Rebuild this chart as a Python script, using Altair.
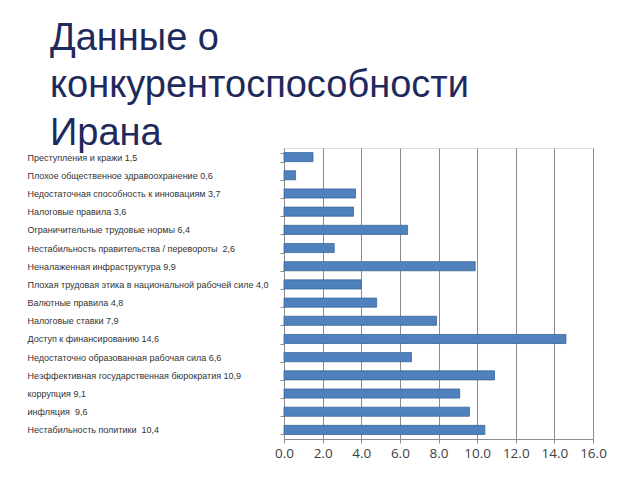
import altair as alt
import pandas as pd

NB = "\u00a0"
labels = [
    "Преступления и кражи 1,5",
    "Плохое общественное здравоохранение 0,6",
    NB + "Недостаточная способность к инновациям 3,7",
    "Налоговые правила 3,6",
    "Ограничительные трудовые нормы 6,4",
    "Нестабильность правительства / перевороты" + NB + " 2,6",
    NB + "Неналаженная инфраструктура 9,9",
    NB + "Плохая трудовая этика в национальной рабочей силе 4,0",
    "Валютные правила 4,8",
    "Налоговые ставки 7,9",
    NB + "Доступ к финансированию 14,6",
    "Недостаточно образованная рабочая сила 6,6",
    "Неэффективная государственная бюрократия 10,9",
    NB + "коррупция 9,1",
    "инфляция" + NB + " 9,6",
    "Нестабильность политики" + NB + " 10,4",
]
values = [1.5, 0.6, 3.7, 3.6, 6.4, 2.6, 9.9, 4.0, 4.8, 7.9, 14.6, 6.6, 10.9, 9.1, 9.6, 10.4]
x_ticks = [0, 2, 4, 6, 8, 10, 12, 14, 16]
title_lines = ["Данные о", "конкурентоспособности", "Ирана"]

df = pd.DataFrame({"label": labels, "value": values})

chart = alt.Chart(df).mark_bar(
    color="#4f81bd", stroke="#3b6799", strokeWidth=0.8
).encode(
    x=alt.X(
        "value:Q",
        scale=alt.Scale(domain=[0, 16], nice=False),
        axis=alt.Axis(
            values=x_ticks, format=".1f", grid=True, gridColor="#8c8c8c",
            gridWidth=1, domain=True, domainColor="#8c8c8c", ticks=True,
            tickSize=4, tickColor="#8c8c8c", labelFontSize=13.5,
            labelFont="Open Sans", labelColor="#404040", labelPadding=3,
            labelOverlap=False, labelFlush=False, title=None,
        ),
    ),
    y=alt.Y(
        "label:N", sort=labels,
        scale=alt.Scale(paddingInner=0.5, paddingOuter=0.25),
        axis=alt.Axis(
            title=None, labelAlign="left", labelPadding=253, tickSize=4,
            tickBand="extent", domainColor="#8c8c8c", tickColor="#8c8c8c",
            labelFontSize=9, labelFont="Liberation Sans", labelColor="#333333",
            labelLimit=0,
        ),
    ),
).properties(
    width=309,
    height=291,
    title=alt.TitleParams(
        text=title_lines, fontSize=38, font="Liberation Sans",
        fontWeight="normal", color="#1f2a5c", anchor="start", frame="group",
        dx=-234, dy=9, lineHeight=47.7, offset=0,
    ),
    autosize=alt.AutoSizeParams(type="none"),
    padding={"left": 284, "top": 148, "right": 47, "bottom": 41},
).configure_view(stroke=None).configure(background="white")

chart.save("out.html", embed_options={"renderer": "svg", "actions": False})
